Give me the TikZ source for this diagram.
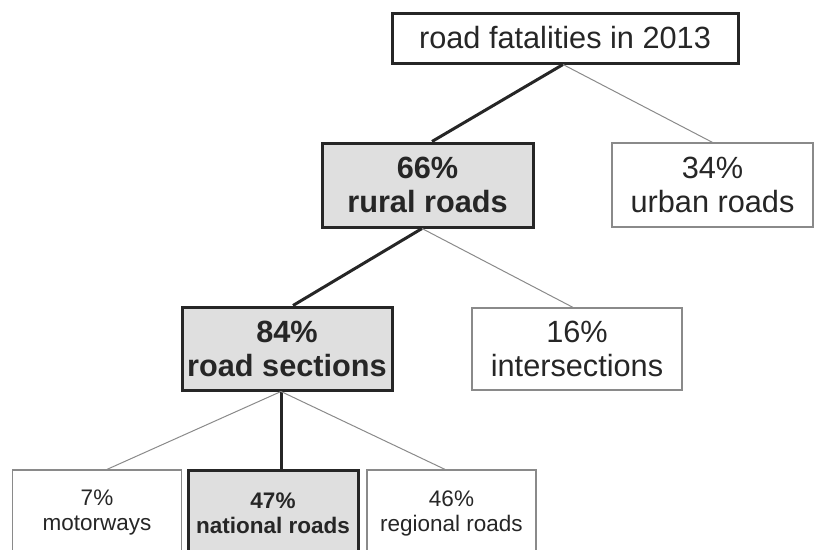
\documentclass[tikz,border=0pt]{standalone}
\usepackage{fontspec}
\setmainfont{Liberation Sans}
\definecolor{caixa}{HTML}{DFDFDF}
\definecolor{linha}{HTML}{8A8A8A}
\definecolor{texto}{HTML}{262626}
\begin{document}
\begin{tikzpicture}[x=1pt, y=-1pt,
    media/.style={font=\fontsize{30.7}{34}\selectfont},
    mediab/.style={font=\fontsize{30.7}{34}\selectfont\bfseries},
    baixa/.style={font=\fontsize{22.5}{25}\selectfont},
    baixab/.style={font=\fontsize{22.5}{25}\selectfont\bfseries},
    topo/.style={draw=texto, line width=3pt, fill=white, text=texto, inner sep=0pt},
    forte/.style={draw=texto, line width=3pt, fill=caixa, text=texto, align=center, inner sep=0pt},
    fraco/.style={draw=linha, line width=1.2pt, fill=white, text=texto, align=center, inner sep=0pt},
    ramo/.style={draw=texto, line width=3pt},
    galho/.style={draw=linha, line width=1pt}]
    \clip (0,0) rectangle (814,549); % area da figura
    \node[topo, media, minimum width=346pt, minimum height=50pt] (total) at (565,38) {road fatalities in 2013}; % Caixa do topo
    \node[forte, mediab, minimum width=211pt, minimum height=84pt] (rural) at (427.5,185) {66\%\\rural roads}; % Nivel 1
    \node[fraco, media, minimum width=201pt, minimum height=84pt] (urbana) at (712.5,185) {34\%\\urban roads};
    \node[forte, mediab, minimum width=210pt, minimum height=83pt] (seccoes) at (287,348.5) {84\%\\road sections}; % Nivel 2
    \node[fraco, media, minimum width=210pt, minimum height=82pt] (cruzamentos) at (577,349) {16\%\\intersections};
    \node[fraco, baixa, minimum width=169pt, minimum height=86pt] (autoestradas) at (97,513) {7\%\\motorways}; % Nivel 3 (cortado em baixo)
    \node[forte, baixab, minimum width=170pt, minimum height=86pt] (nacionais) at (273,513) {47\%\\national roads};
    \node[fraco, baixa, minimum width=169pt, minimum height=86pt] (regionais) at (451.5,513) {46\%\\regional roads};
    \draw[ramo] ([xshift=-2pt]total.south) -- ([xshift=4.5pt]rural.north); % Ligacao forte
    \draw[galho] ([xshift=-2pt]total.south) -- (urbana.north); % Ligacao fraca
    \draw[ramo] ([xshift=-5.5pt]rural.south) -- ([xshift=6pt]seccoes.north);
    \draw[galho] ([xshift=-5.5pt]rural.south) -- ([xshift=-4pt]cruzamentos.north);
    \draw[galho] ([xshift=-6pt]seccoes.south) -- ([xshift=10pt]autoestradas.north);
    \draw[ramo] ([xshift=-6pt]seccoes.south) -- ([xshift=8pt]nacionais.north);
    \draw[galho] ([xshift=-6pt]seccoes.south) -- ([xshift=-6.5pt]regionais.north);
\end{tikzpicture}
\end{document}
